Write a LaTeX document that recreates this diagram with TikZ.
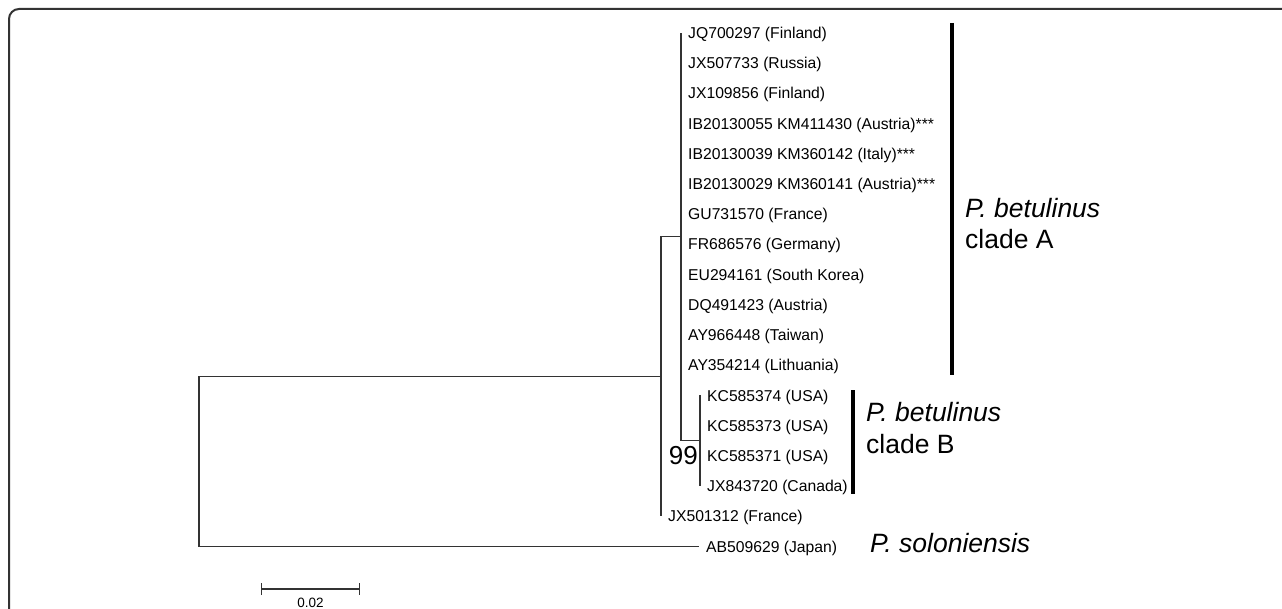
\documentclass[tikz,border=0pt]{standalone}
\usepackage{fontspec}
\setmainfont{Liberation Sans}
\usepackage{tikz}
\usetikzlibrary{
    arrows.meta,
    positioning
}

\begin{document}
\begin{tikzpicture}[
    x=1pt, y=-1pt,
    branch/.style={draw=black!80, line width=1.2pt},
    leaf/.style={anchor=west, inner xsep=7pt, inner ysep=0pt, text height=11.2pt, text depth=0pt, font=\fontsize{15.7}{18}\selectfont},
    bar/.style={line width=3.3pt},
    clade/.style={anchor=base west, inner sep=0pt, align=left, font=\fontsize{26.5}{31.5}\selectfont}
]
\useasboundingbox (0,0) rectangle (1282,609);

% Frame
\draw[black!80, line width=2pt, rounded corners=10pt] (9,620) -- (9,9) -- (1290,9);

% Internal nodes
\coordinate (n-root) at (199,376.5);
\coordinate (n-main) at (661,376.5);
\coordinate (n-a) at (681,236.9);
\coordinate (n-b) at (700,440.7);

% Clade A
\node[leaf] (JQ700297) at (681,33) {JQ700297 (Finland)};
\node[leaf] (JX507733) at (681,63.2) {JX507733 (Russia)};
\node[leaf] (JX109856) at (681,93.4) {JX109856 (Finland)};
\node[leaf] (KM411430) at (681,123.6) {IB20130055 KM411430 (Austria)***};
\node[leaf] (KM360142) at (681,153.8) {IB20130039 KM360142 (Italy)***};
\node[leaf] (KM360141) at (681,184) {IB20130029 KM360141 (Austria)***};
\node[leaf] (GU731570) at (681,214.2) {GU731570 (France)};
\node[leaf] (FR686576) at (681,244.4) {FR686576 (Germany)};
\node[leaf] (EU294161) at (681,274.6) {EU294161 (South Korea)};
\node[leaf] (DQ491423) at (681,304.8) {DQ491423 (Austria)};
\node[leaf] (AY966448) at (681,335) {AY966448 (Taiwan)};
\node[leaf] (AY354214) at (681,365.2) {AY354214 (Lithuania)};

% Clade B
\node[leaf] (KC585374) at (700,395.4) {KC585374 (USA)};
\node[leaf] (KC585373) at (700,425.6) {KC585373 (USA)};
\node[leaf] (KC585371) at (700,455.8) {KC585371 (USA)};
\node[leaf] (JX843720) at (700,486) {JX843720 (Canada)};

% Others
\node[leaf] (JX501312) at (661,516.2) {JX501312 (France)};
\node[leaf] (AB509629) at (699,546.4) {AB509629 (Japan)};

% Branches
\draw[branch] (n-root) -- (n-main);
\draw[branch] (n-root) |- (AB509629.west);
\draw[branch] (n-main) |- (n-a);
\draw[branch] (n-main) |- (JX501312.west);
\draw[branch] (n-a) |- (JQ700297.west);
\draw[branch] (n-a) |- (n-b);
\draw[branch] (n-b) |- (KC585374.west);
\draw[branch] (n-b) |- (JX843720.west);

\node[anchor=east, inner sep=0pt, text height=18.5pt, text depth=0pt, font=\fontsize{26}{26}\selectfont] (boot-b) at (698,455.5) {99};

% Clade bars and names
\draw[bar] (952,23) -- (952,375);
\draw[bar] (853,390) -- (853,494);
\node[clade] (clade-a) at (965,249) {\textit{P. betulinus}\\clade A};
\node[clade] (clade-b) at (866,453) {\textit{P. betulinus}\\clade B};
\node[clade] (sp-sol) at (870,552) {\textit{P. soloniensis}};

% Scale
\coordinate (scale-l) at (261,589);
\coordinate (scale-r) at (360,589);
\draw[branch, {Bar[width=12pt]}-{Bar[width=12pt]}] (scale-l) -- (scale-r);
\node[inner sep=0pt, text height=9.7pt, text depth=0pt, font=\fontsize{13.5}{14}\selectfont] (scale-label) at (310.5,603) {0.02};

\end{tikzpicture}
\end{document}
